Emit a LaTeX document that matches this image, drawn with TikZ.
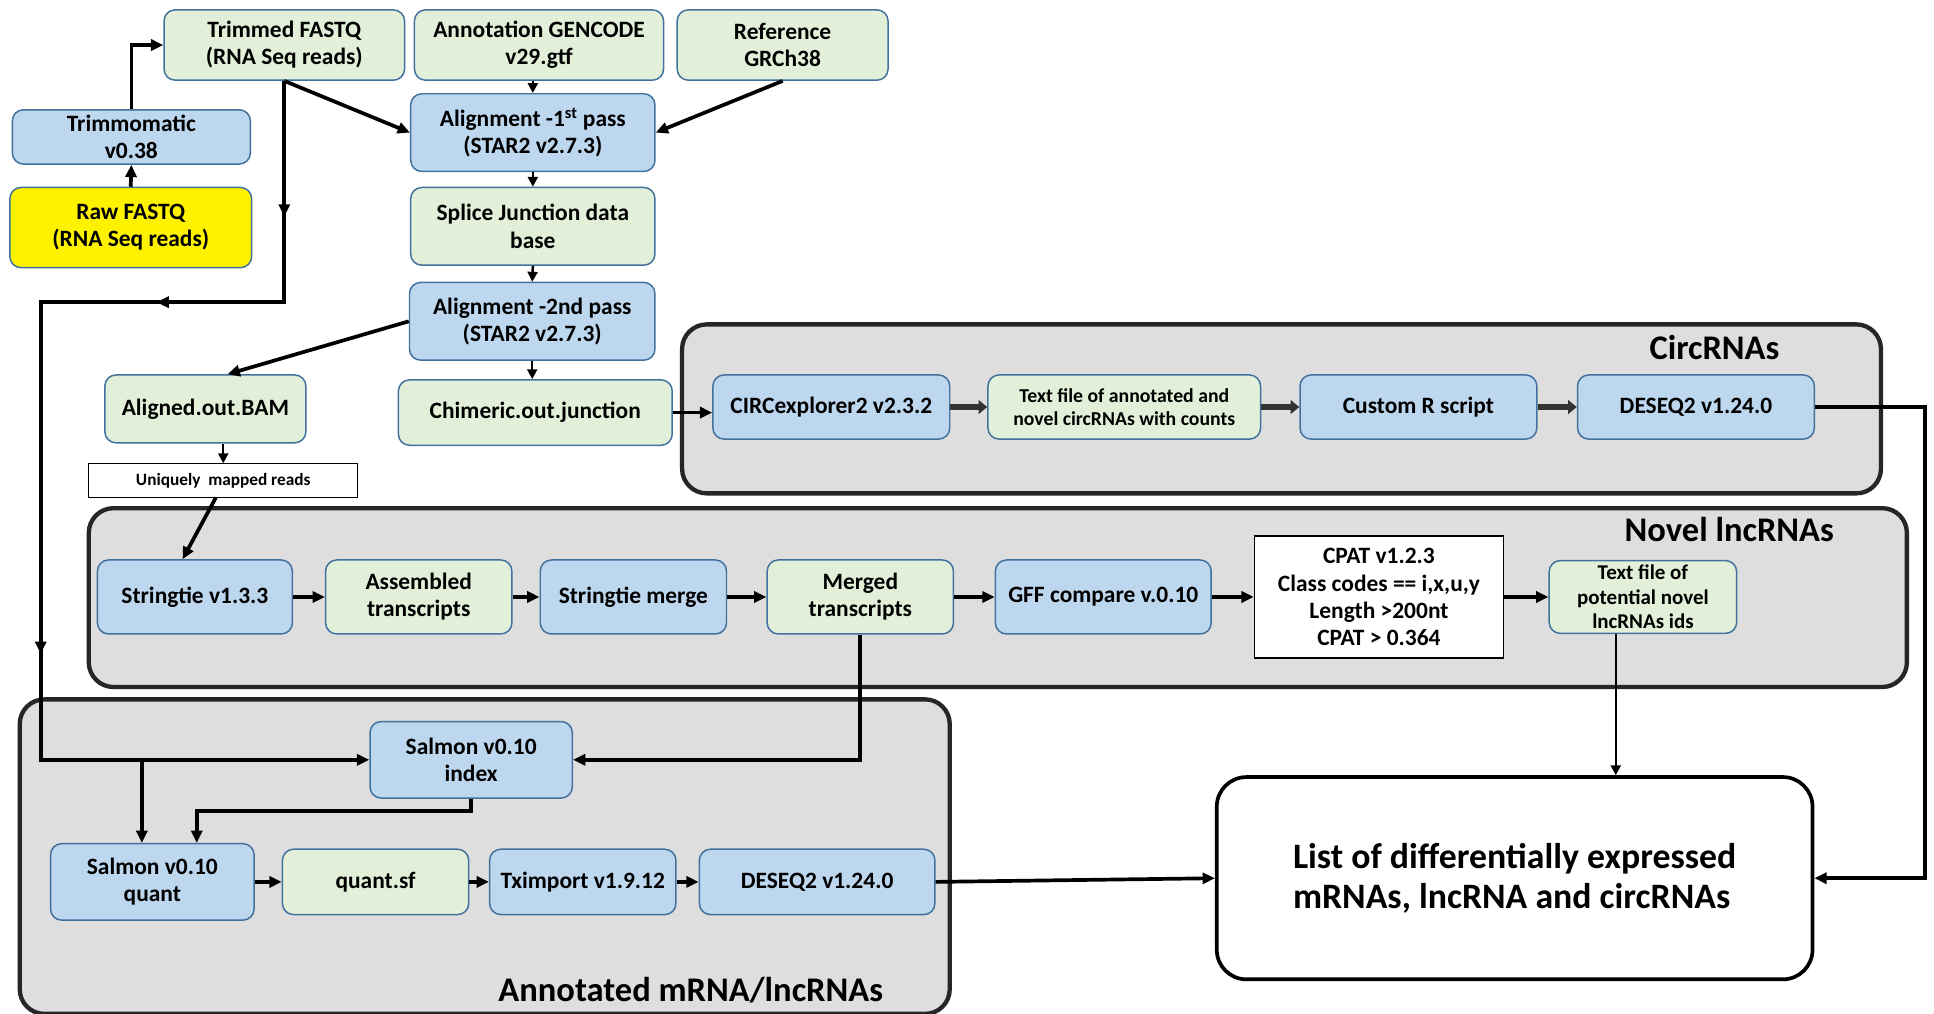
\documentclass[tikz,border=0pt]{standalone}
\usepackage{fontspec}
\setmainfont{Carlito}
\usetikzlibrary{arrows.meta,decorations.markings}
\definecolor{boxblue}{HTML}{BDD7EE}
\definecolor{boxgreen}{HTML}{E2F0D9}
\definecolor{boxedge}{HTML}{41719C}
\definecolor{grpgray}{HTML}{DEDEDE}

\begin{document}
\begin{tikzpicture}[x=1pt, y=-1pt,
    every node/.style={font=\bfseries\fontsize{19}{22}\selectfont, align=center},
    wh/.style 2 args={minimum width=#1pt, minimum height=#2pt},
    box/.style={draw=boxedge, line width=1.2pt, rounded corners=9pt, inner sep=1pt},
    tool/.style={box, fill=boxblue},
    data/.style={box, fill=boxgreen},
    grp/.style={draw=black!85, line width=3.5pt, fill=grpgray, rounded corners=20pt},
    grplabel/.style={font=\bfseries\fontsize{28}{32}\selectfont},
    arr/.style={line width=3pt, -{Triangle[length=10pt,width=9pt]}},
    thinarr/.style={line width=2pt, -{Triangle[length=8pt,width=8pt]}},
    garr/.style={line width=4.5pt, draw=black!80, -{Triangle[length=7pt,width=11pt]}},
    midarr/.style={postaction={decorate, decoration={markings,
        mark=at position #1 with {\arrow{Triangle[length=10pt,width=9pt]}}}}}]
  \useasboundingbox (0,0) rectangle (1568,822);

  % groups
  \draw[grp] (553,263) rectangle (1525,400);
  \draw[grp] (72,412) rectangle (1546,557);
  \draw[grp] (16,567) rectangle (770,822);
  \node[grplabel] (circlab) at (1390,282) {CircRNAs};
  \node[grplabel] (novlab) at (1402,429) {Novel lncRNAs};
  \node[grplabel] (annlab) at (560,803) {Annotated mRNA/lncRNAs};

  % alignment part
  \node[data, wh={195}{57}] (trimmed) at (230.5,36.5) {Trimmed FASTQ\\(RNA Seq reads)};
  \node[data, wh={202}{57}] (annot) at (437,36.5) {Annotation GENCODE\\v29.gtf};
  \node[data, wh={171}{57}] (ref) at (634.5,36.5) {Reference\\GRCh38};
  \node[tool, wh={193}{44}] (trimmo) at (106.5,111) {Trimmomatic\\v0.38};
  \node[box, fill=yellow, wh={196}{65}] (raw) at (106,184.5) {Raw FASTQ\\(RNA Seq reads)};
  \node[tool, wh={198}{63}] (align1) at (432,107.5) {Alignment -1\textsuperscript{st} pass\\(STAR2 v2.7.3)};
  \node[data, wh={198}{63}] (splice) at (432,183.5) {Splice Junction data\\base};
  \node[tool, wh={199}{63}] (align2) at (431.5,260.5) {Alignment -2nd pass\\(STAR2 v2.7.3)};
  \node[data, wh={163}{55}] (bam) at (166.5,331.5) {Aligned.out.BAM};
  \node[data, wh={222}{53}] (chim) at (434,334.5) {Chimeric.out.junction};
  \node[draw, line width=0.8pt, fill=white, wh={218}{27}, inner sep=1pt,
        font=\bfseries\fontsize{14}{16}\selectfont] (uniq) at (181,389.5) {Uniquely\ \ mapped reads};

  % circRNAs
  \node[tool, wh={192}{52}] (circx) at (674,330) {CIRCexplorer2 v2.3.2};
  \node[data, wh={221}{52}, font=\bfseries\fontsize{16}{18}\selectfont] (textcirc) at (911.5,330)
       {Text file of annotated and\\novel circRNAs with counts};
  \node[tool, wh={192}{52}] (rscript) at (1150,330) {Custom R script};
  \node[tool, wh={192}{52}] (deseqc) at (1375,330) {DESEQ2 v1.24.0};

  % novel lncRNAs
  \node[tool, wh={158}{60}] (strg) at (158,484) {Stringtie v1.3.3};
  \node[data, wh={151}{60}] (assem) at (339.5,484) {Assembled\\transcripts};
  \node[tool, wh={151}{60}] (smerge) at (513.5,484) {Stringtie merge};
  \node[data, wh={151}{60}] (merged) at (697.5,484) {Merged\\transcripts};
  \node[tool, wh={175}{60}] (gff) at (894.5,484) {GFF compare v.0.10};
  \node[draw, line width=1pt, fill=white, wh={202}{99}] (cpat) at (1118,484)
       {CPAT v1.2.3\\Class codes == i,x,u,y\\Length >200nt\\CPAT > 0.364};
  \node[data, wh={152}{59}, font=\bfseries\fontsize{17}{20}\selectfont] (txtnov) at (1332,484)
       {Text file of\\potential novel\\lncRNAs ids};

  % annotated mRNA/lncRNAs
  \node[tool, wh={164}{62}] (sindex) at (382,616) {Salmon v0.10\\index};
  \node[tool, wh={165}{62}] (squant) at (123.5,715) {Salmon v0.10\\quant};
  \node[data, wh={151}{53}] (quantsf) at (304.5,715) {quant.sf};
  \node[tool, wh={151}{53}] (txi) at (472.5,715) {Tximport v1.9.12};
  \node[tool, wh={191}{53}] (deseqa) at (662.5,715) {DESEQ2 v1.24.0};

  \node[draw, line width=3pt, fill=white, rounded corners=24pt, wh={483}{164}, align=left,
        font=\bfseries\fontsize{29}{33}\selectfont] (final) at (1228,712)
       {List of differentially expressed\\mRNAs, lncRNA and circRNAs};

  % connectors
  \draw[arr] (raw.north) -- (trimmo.south);
  \draw[arr] (trimmo.north) |- (trimmed.west);
  \draw[arr] (trimmed.south) -- (align1.west);
  \draw[thinarr] (annot.south -| align1.north) -- (align1.north);
  \draw[arr] (ref.south) -- (align1.east);
  \draw[thinarr] (align1.south) -- (splice.north);
  \draw[thinarr] (splice.south) -- (align2.north);
  \draw[arr] (align2.west) -- ([xshift=18pt]bam.north);
  \draw[thinarr] (align2.south) -- (align2.south |- chim.north);
  \draw[thinarr] (bam.south -| uniq.north) -- (uniq.north);
  \draw[arr] ([xshift=-6pt]uniq.south) -- ([xshift=-10pt]strg.north);
  \draw[arr] (chim.east) -- (chim.east -| circx.west);

  \coordinate (bend1) at (230.5,245);
  \coordinate (bend2) at (33,245);
  \coordinate (bend3) at (33,616);
  \draw[arr, midarr=110pt, midarr=283pt, midarr=662pt]
    (trimmed.south) -- (bend1) -- (bend2) -- (bend3) -- (sindex.west);
  \coordinate (branch) at (115,616);
  \draw[arr] (branch) -- (branch |- squant.north);

  \foreach \a/\b in {circx/textcirc, textcirc/rscript, rscript/deseqc}
    \draw[garr] (\a) -- (\b);
  \draw[arr] (deseqc.east) -- ++(89,0) |- (final.east);

  \foreach \a/\b in {strg/assem, assem/smerge, smerge/merged, merged/gff, gff/cpat, cpat/txtnov}
    \draw[arr] (\a) -- (\b);
  \draw[arr] (merged.south) |- (sindex.east);
  \coordinate (lnc) at ([xshift=-22pt]txtnov.south);
  \draw[thinarr] (lnc) -- (lnc |- final.north);

  \draw[arr] (sindex.south) -- ++(0,10) -| ([xshift=36pt]squant.north);
  \foreach \a/\b in {squant/quantsf, quantsf/txi, txi/deseqa}
    \draw[arr] (\a) -- (\b);
  \draw[arr] (deseqa.east) -- (final.west);
\end{tikzpicture}
\end{document}
